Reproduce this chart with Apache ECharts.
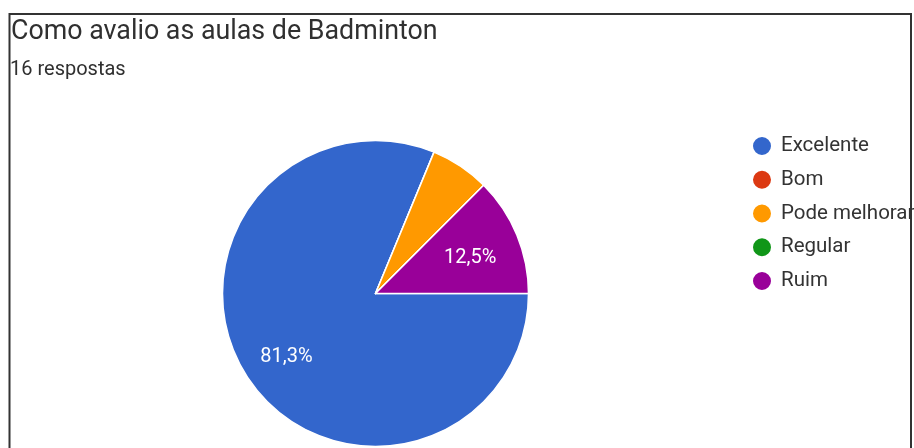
<!DOCTYPE html>
<html>
<head>
<meta charset="utf-8">
<script src="https://cdn.jsdelivr.net/npm/echarts@6/dist/echarts.min.js"></script>
<style>
html,body{margin:0;padding:0;background:#fff;}
#chart{width:914px;height:448px;}
</style>
</head>
<body>
<div id="chart"></div>
<script>
const titleText = 'Como avalio as aulas de Badminton';
const subtitleText = '16 respostas';
const categories = ['Excelente', 'Bom', 'Pode melhorar', 'Regular', 'Ruim'];
const values = [13, 0, 1, 0, 2];
const colors = ['#3366CC', '#DC3912', '#FF9900', '#109618', '#990099'];

const total = values.reduce((a, b) => a + b, 0);
const pieData = categories.map((c, i) => ({ name: c, value: values[i] }));
const fmt = p => {
  const pct = p.value / total * 100;
  if (pct < 10) return '';
  return pct.toFixed(1).replace('.', ',') + '%';
};

const R = 153;
const chart = echarts.init(document.getElementById('chart'), null, { renderer: 'canvas' });
chart.setOption({
  animation: false,
  color: colors,
  textStyle: { fontFamily: 'Roboto' },
  title: [
    { text: titleText, left: 6, top: 19, padding: [0, 5, 0, 5], textStyle: { fontFamily: 'Roboto', fontSize: 26.8, fontWeight: 'normal', color: '#303030' } },
    { text: subtitleText, left: 5, top: 60, padding: [0, 5, 0, 5], textStyle: { fontFamily: 'Roboto', fontSize: 20, fontWeight: 'normal', color: '#303030' } }
  ],
  graphic: [
    { type: 'rect', silent: true, z: 100, shape: { x: 9.5, y: 14, width: 901.5, height: 600 }, style: { fill: 'none', stroke: '#333', lineWidth: 2 } }
  ],
  legend: {
    orient: 'vertical',
    left: 751,
    top: 135,
    padding: 0,
    icon: 'circle',
    itemWidth: 20,
    itemHeight: 20,
    itemGap: 11.75,
    data: categories,
    textStyle: { fontFamily: 'Roboto', fontSize: 20.5, lineHeight: 20, color: '#333', padding: [0, 0, 0, 4] },
    selectedMode: false
  },
  series: [
    {
      type: 'pie',
      center: [375.5, 293.5],
      radius: [0, R],
      startAngle: 0,
      clockwise: true,
      avoidLabelOverlap: false,
      data: pieData,
      itemStyle: { borderColor: '#fff', borderWidth: 1.5 },
      label: { show: false },
      labelLine: { show: false },
      emphasis: { disabled: true }
    },
    {
      type: 'pie',
      center: [375.5, 293.5],
      radius: [0, R * 1.33],
      startAngle: 0,
      clockwise: true,
      silent: true,
      avoidLabelOverlap: false,
      data: pieData,
      itemStyle: { color: 'rgba(0,0,0,0)', borderWidth: 0 },
      label: { show: true, position: 'inside', offset: [-2, 5], formatter: fmt, color: '#fff', fontFamily: 'Roboto', fontSize: 20 },
      labelLine: { show: false },
      emphasis: { disabled: true }
    }
  ]
});
</script>
</body>
</html>
